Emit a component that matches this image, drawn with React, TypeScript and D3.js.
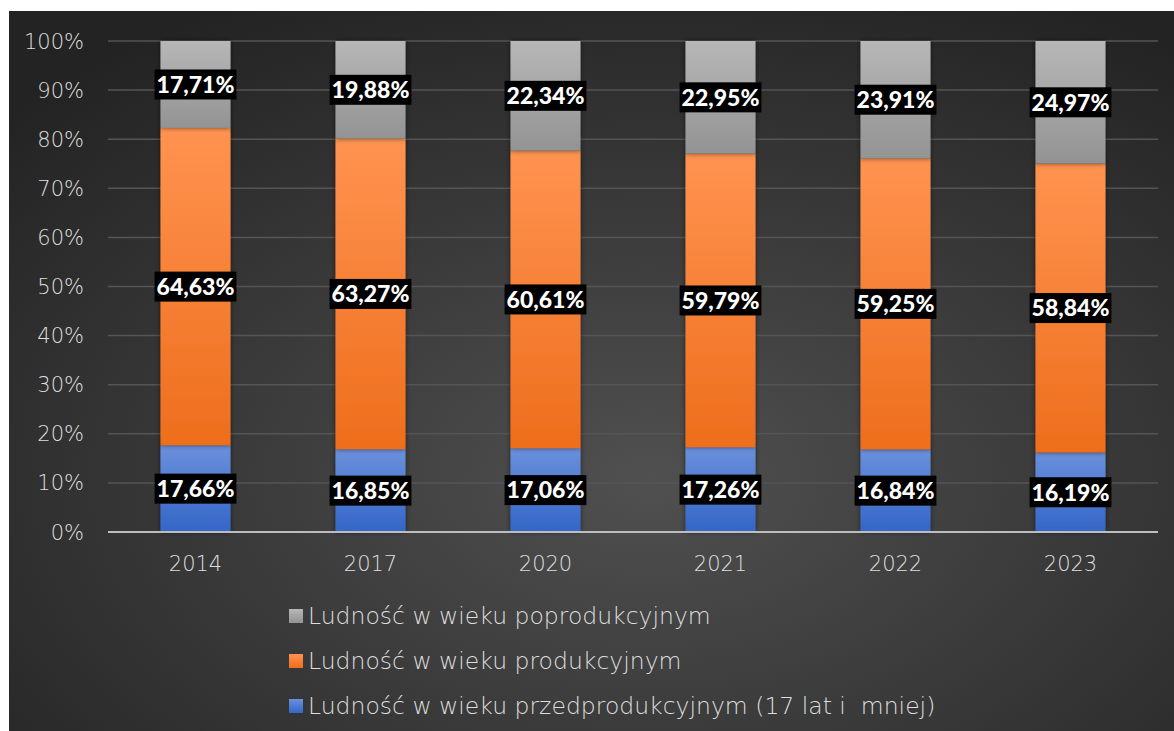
import React, { useEffect, useRef } from 'react';
import * as d3 from 'd3';

const years = ['2014', '2017', '2020', '2021', '2022', '2023'];
const przed = [17.66, 16.85, 17.06, 17.26, 16.84, 16.19];
const prod = [64.63, 63.27, 60.61, 59.79, 59.25, 58.84];
const popr = [17.71, 19.88, 22.34, 22.95, 23.91, 24.97];
const yTicks = [0, 10, 20, 30, 40, 50, 60, 70, 80, 90, 100];

const seriesNames = [
  'Ludność w wieku przedprodukcyjnym (17 lat i  mniej)',
  'Ludność w wieku produkcyjnym',
  'Ludność w wieku poprodukcyjnym',
];
const seriesKeys = ['przed', 'prod', 'popr'];

const App: React.FC = () => {
  const svgRef = useRef<SVGSVGElement | null>(null);

  useEffect(() => {
    if (!svgRef.current) return;
    const W = 1174;
    const H = 731;
    const svg = d3.select(svgRef.current);
    svg.selectAll('*').remove();

    const rows = years.map((y, i) => ({ year: y, przed: przed[i], prod: prod[i], popr: popr[i] }));

    // gradients
    const defs = svg.append('defs');
    const bg = defs.append('radialGradient').attr('id', 'bg')
      .attr('cx', '0.55').attr('cy', '0.65').attr('r', '0.75');
    bg.append('stop').attr('offset', '0').attr('stop-color', '#505050');
    bg.append('stop').attr('offset', '1').attr('stop-color', '#232323');

    const grads: Record<string, [string, string]> = {
      przed: ['#6b90dc', '#3366c8'],
      prod: ['#ff9350', '#ee6e1c'],
      popr: ['#b7b7b7', '#939393'],
    };
    Object.entries(grads).forEach(([k, [a, b]]) => {
      const g = defs.append('linearGradient').attr('id', `g-${k}`)
        .attr('x1', 0).attr('y1', 0).attr('x2', 0).attr('y2', 1);
      g.append('stop').attr('offset', '0').attr('stop-color', a);
      g.append('stop').attr('offset', '1').attr('stop-color', b);
    });
    const sh = defs.append('filter').attr('id', 'shadow')
      .attr('x', '-20%').attr('y', '-5%').attr('width', '140%').attr('height', '110%');
    sh.append('feDropShadow').attr('dx', 0).attr('dy', 0).attr('stdDeviation', 2.5)
      .attr('flood-color', '#000').attr('flood-opacity', 0.55);

    svg.append('rect').attr('x', 9).attr('y', 11).attr('width', W - 9).attr('height', H - 11)
      .attr('fill', 'url(#bg)');

    const x = d3.scaleBand<string>().domain(years).range([108, 1158]).paddingInner(0.6).paddingOuter(0.3);
    const y = d3.scaleLinear().domain([0, 100]).range([532, 41]);

    // grid
    svg.append('g').selectAll('line').data(yTicks.filter(t => t > 0)).join('line')
      .attr('x1', 108).attr('x2', 1158)
      .attr('y1', d => y(d)).attr('y2', d => y(d))
      .attr('stroke', '#555555').attr('stroke-width', 1.5);

    // y labels
    svg.append('g').selectAll('text').data(yTicks).join('text')
      .attr('x', 84).attr('y', d => y(d)).attr('dy', '0.36em')
      .attr('text-anchor', 'end')
      .attr('font-family', 'DejaVu Sans').attr('font-weight', 200).attr('font-size', 21)
      .attr('fill', '#dedede')
      .text(d => `${d}%`);

    const stack = d3.stack<any>().keys(seriesKeys);
    const stacked = stack(rows);

    // bars
    const barG = svg.append('g');
    stacked.forEach(s => {
      barG.append('g').selectAll('rect').data(s).join('rect')
        .attr('x', d => x(d.data.year)!)
        .attr('width', x.bandwidth())
        .attr('y', d => y(Math.min(d[1], 100)))
        .attr('height', d => y(d[0]) - y(Math.min(d[1], 100)))
        .attr('fill', `url(#g-${s.key})`)
        .attr('filter', 'url(#shadow)');
    });

    // axis line
    svg.append('line').attr('x1', 108).attr('x2', 1158).attr('y1', y(0)).attr('y2', y(0))
      .attr('stroke', '#bdbdbd').attr('stroke-width', 2);

    // x labels
    svg.append('g').selectAll('text').data(years).join('text')
      .attr('x', d => x(d)! + x.bandwidth() / 2).attr('y', 571)
      .attr('text-anchor', 'middle')
      .attr('font-family', 'DejaVu Sans').attr('font-weight', 200).attr('font-size', 21)
      .attr('fill', '#dedede')
      .text(d => d);

    // data labels
    const lab = svg.append('g');
    stacked.forEach(s => {
      s.forEach(d => {
        const cx = x(d.data.year)! + x.bandwidth() / 2;
        const cy = y((d[0] + Math.min(d[1], 100)) / 2);
        const txt = (d[1] - d[0]).toFixed(2).replace('.', ',') + '%';
        const g = lab.append('g');
        const t = g.append('text')
          .attr('x', cx).attr('y', cy).attr('dy', '0.36em')
          .attr('text-anchor', 'middle')
          .attr('font-family', 'Lato').attr('font-weight', 900).attr('font-size', 23)
          .attr('fill', '#ffffff')
          .text(txt);
        const bb = (t.node() as SVGTextElement).getBBox();
        g.insert('rect', 'text')
          .attr('x', bb.x - 2).attr('y', cy - 15)
          .attr('width', bb.width + 4).attr('height', 30)
          .attr('fill', '#000');
      });
    });

    // legend
    const legendOrder = [2, 1, 0];
    const lg = svg.append('g');
    legendOrder.forEach((si, i) => {
      const ly = 616 + i * 45;
      lg.append('rect').attr('x', 289).attr('y', ly - 7).attr('width', 14).attr('height', 14)
        .attr('fill', `url(#g-${seriesKeys[si]})`);
      lg.append('text').attr('x', 308).attr('y', ly).attr('dy', '0.36em')
        .attr('font-family', 'DejaVu Sans').attr('font-weight', 200).attr('font-size', 23.5)
        .attr('fill', '#dedede')
        .style('white-space', 'pre')
        .text(seriesNames[si]);
    });
  }, []);

  return (
    <div style={{ position: 'absolute', left: 0, top: 0, width: 1174, height: 731, background: '#fff' }}>
      <svg ref={svgRef} width={1174} height={731} style={{ display: 'block' }} />
    </div>
  );
};

export default App;
